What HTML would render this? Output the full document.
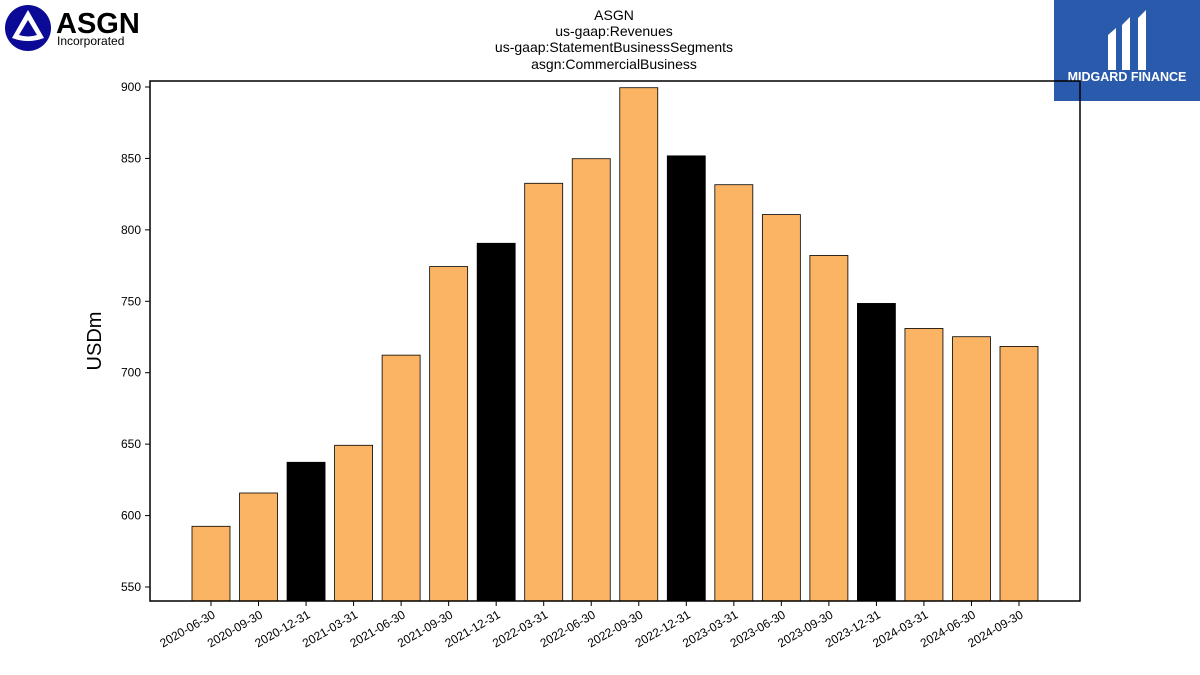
<!DOCTYPE html>
<html><head><meta charset="utf-8"><style>
body{margin:0;background:#fff;font-family:"Liberation Sans",sans-serif;}
#wrap{position:relative;width:1200px;height:675px;overflow:hidden;}
</style></head><body>
<div id="wrap">
<svg id="chart" width="1200" height="675">
  <g>
    <circle cx="28" cy="28" r="23" fill="#0a0a96"/>
    <path d="M28 10 L44 38 Q28 44 12 38 Z" fill="#fff"/>
    <path d="M28 20 L37 35 Q28 38 19 35 Z" fill="#0a0a96"/>
    <text x="56" y="33" font-size="29" font-weight="bold" fill="#000" font-family="Liberation Sans">ASGN</text>
    <text x="57" y="45" font-size="12" fill="#000" font-family="Liberation Sans">Incorporated</text>
  </g>
  <g>
    <rect x="1054" y="0" width="146" height="101" fill="#2a5aac"/>
    <path d="M1108 35 L1116 28 L1116 70 L1108 70 Z M1122 25 L1130 17 L1130 70 L1122 70 Z M1138 18 L1146 10 L1146 70 L1138 70 Z" fill="#fff"/>
    <text x="1127" y="81" font-size="12.5" font-weight="bold" fill="#fff" text-anchor="middle">MIDGARD FINANCE</text>
  </g>
  <g font-size="14" text-anchor="middle" fill="#000">
    <text x="614" y="20">ASGN</text>
    <text x="614" y="36">us-gaap:Revenues</text>
    <text x="614" y="52">us-gaap:StatementBusinessSegments</text>
    <text x="614" y="69">asgn:CommercialBusiness</text>
  </g>
  <g id="bars"></g>
  <g id="yaxis"></g>
  <g id="xaxis"></g>
  <rect x="150" y="81" width="930" height="520" fill="none" stroke="#000" stroke-width="1.5"/>
  <text x="101" y="341" font-size="20" text-anchor="middle" transform="rotate(-90 101 341)">USDm</text>
</svg>
</div>
<script>
const categories=["2020-06-30","2020-09-30","2020-12-31","2021-03-31","2021-06-30","2021-09-30","2021-12-31","2022-03-31","2022-06-30","2022-09-30","2022-12-31","2023-03-31","2023-06-30","2023-09-30","2023-12-31","2024-03-31","2024-06-30","2024-09-30"];
const values=[592.5,615.8,637.3,649.2,712.3,774.3,790.6,832.6,849.8,899.5,851.8,831.6,810.7,782.1,748.5,731.0,725.2,718.4];
const yTicks=[550,600,650,700,750,800,850,900];
const NS="http://www.w3.org/2000/svg";
const plotL=150,plotR=1080,plotT=81,plotB=601,yMin=540.2,yMax=904.2;
function y(v){return plotB-(v-yMin)/(yMax-yMin)*(plotB-plotT);}
function x(i){const pad=61,step=(plotR-plotL-2*pad)/(categories.length-1);return plotL+pad+i*step;}
const bw=38;
const bars=document.getElementById('bars');
values.forEach((v,i)=>{
  const r=document.createElementNS(NS,'rect');
  r.setAttribute('x',x(i)-bw/2);r.setAttribute('y',y(v));
  r.setAttribute('width',bw);r.setAttribute('height',plotB-y(v));
  r.setAttribute('fill',categories[i].endsWith('12-31')?'#000':'#fbb463');
  r.setAttribute('stroke','#000');r.setAttribute('stroke-width','0.8');
  
  
  bars.appendChild(r);
});
const ya=document.getElementById('yaxis');
yTicks.forEach(t=>{
  const l=document.createElementNS(NS,'line');
  l.setAttribute('x1',plotL-5);l.setAttribute('x2',plotL);l.setAttribute('y1',y(t));l.setAttribute('y2',y(t));l.setAttribute('stroke','#000');
  
  
  ya.appendChild(l);
  const tx=document.createElementNS(NS,'text');
  tx.setAttribute('x',plotL-9);tx.setAttribute('y',y(t)+4);tx.setAttribute('font-size','12');tx.setAttribute('text-anchor','end');
  tx.textContent=t;
  
  
  ya.appendChild(tx);
});
const xa=document.getElementById('xaxis');
categories.forEach((c,i)=>{
  const l=document.createElementNS(NS,'line');
  l.setAttribute('x1',x(i));l.setAttribute('x2',x(i));l.setAttribute('y1',plotB);l.setAttribute('y2',plotB+5);l.setAttribute('stroke','#000');
  
  
  xa.appendChild(l);
  const tx=document.createElementNS(NS,'text');
  const px=x(i)+5,py=plotB+16;
  tx.setAttribute('x',px);tx.setAttribute('y',py);tx.setAttribute('font-size','12');tx.setAttribute('text-anchor','end');
  tx.setAttribute('transform','rotate(-30 '+px+' '+py+')');
  tx.textContent=c;
  
  
  xa.appendChild(tx);
});
</script>
</body></html>
